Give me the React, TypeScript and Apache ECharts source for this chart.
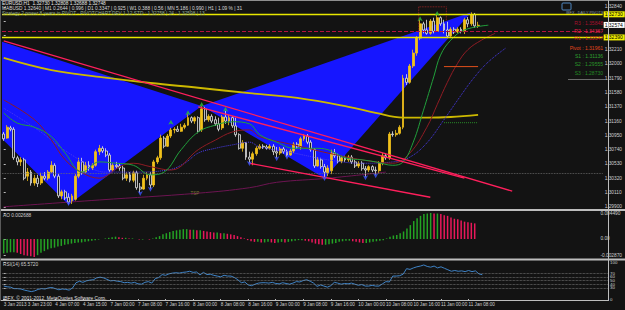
import React, { useEffect, useRef } from 'react';
import * as echarts from 'echarts';

// ---------- DATA ----------
const OPEN = [
  1.3097, 1.3091, 1.3106, 1.3104, 1.3062, 1.3056, 1.3059, 1.3035, 1.3041, 1.3025,
  1.3032, 1.3025, 1.3035, 1.3032, 1.3041, 1.3051, 1.3035, 1.3006, 1.3012, 1.3004,
  1.2999, 1.3001, 1.3035, 1.3056, 1.3041, 1.3051, 1.3047, 1.3051, 1.3071, 1.3076,
  1.3072, 1.3066, 1.3044, 1.3051, 1.3050, 1.3047, 1.3032, 1.3037, 1.3029, 1.3040,
  1.3019, 1.3016, 1.3032, 1.3037, 1.3022, 1.3056, 1.3062, 1.3091, 1.3079, 1.3094,
  1.3103, 1.3104, 1.3101, 1.3107, 1.3110, 1.3121, 1.3116, 1.3121, 1.3103, 1.3134,
  1.3118, 1.3123, 1.3118, 1.3112, 1.3106, 1.3122, 1.3116, 1.3121, 1.3109, 1.3096,
  1.3076, 1.3084, 1.3063, 1.3060, 1.3068, 1.3076, 1.3079, 1.3078, 1.3076, 1.3079,
  1.3071, 1.3069, 1.3075, 1.3071, 1.3066, 1.3072, 1.3082, 1.3078, 1.3090, 1.3094,
  1.3085, 1.3074, 1.3050, 1.3059, 1.3049, 1.3040, 1.3043, 1.3069, 1.3065, 1.3057,
  1.3062, 1.3059, 1.3063, 1.3056, 1.3050, 1.3054, 1.3046, 1.3044, 1.3049, 1.3044,
  1.3043, 1.3054, 1.3065, 1.3062, 1.3097, 1.3096, 1.3098, 1.3107, 1.3179, 1.3173,
  1.3197, 1.3216, 1.3238, 1.3259, 1.3250, 1.3245, 1.3263, 1.3248, 1.3268, 1.3259,
  1.3250, 1.3241, 1.3251, 1.3247, 1.3251, 1.3248, 1.3265, 1.3259, 1.3273, 1.3256,
];
const CLOSE = [
  1.3090, 1.3107, 1.3104, 1.3062, 1.3056, 1.3059, 1.3032, 1.3041, 1.3025, 1.3032,
  1.3024, 1.3035, 1.3032, 1.3041, 1.3051, 1.3035, 1.3006, 1.3012, 1.3003, 1.2997,
  1.3006, 1.3035, 1.3056, 1.3041, 1.3051, 1.3047, 1.3051, 1.3071, 1.3076, 1.3072,
  1.3066, 1.3044, 1.3051, 1.3049, 1.3047, 1.3032, 1.3037, 1.3029, 1.3040, 1.3018,
  1.3016, 1.3032, 1.3037, 1.3022, 1.3056, 1.3062, 1.3091, 1.3079, 1.3094, 1.3103,
  1.3104, 1.3101, 1.3107, 1.3110, 1.3121, 1.3116, 1.3121, 1.3101, 1.3134, 1.3118,
  1.3123, 1.3116, 1.3112, 1.3104, 1.3122, 1.3116, 1.3121, 1.3109, 1.3096, 1.3076,
  1.3084, 1.3063, 1.3060, 1.3068, 1.3076, 1.3079, 1.3078, 1.3076, 1.3079, 1.3071,
  1.3069, 1.3075, 1.3071, 1.3066, 1.3072, 1.3082, 1.3078, 1.3090, 1.3094, 1.3085,
  1.3074, 1.3050, 1.3059, 1.3049, 1.3041, 1.3047, 1.3069, 1.3065, 1.3057, 1.3062,
  1.3059, 1.3063, 1.3056, 1.3050, 1.3054, 1.3046, 1.3044, 1.3049, 1.3044, 1.3043,
  1.3054, 1.3065, 1.3062, 1.3097, 1.3096, 1.3098, 1.3107, 1.3179, 1.3173, 1.3197,
  1.3216, 1.3238, 1.3259, 1.3250, 1.3245, 1.3263, 1.3248, 1.3268, 1.3259, 1.3250,
  1.3241, 1.3251, 1.3247, 1.3251, 1.3248, 1.3265, 1.3259, 1.3273, 1.3256, 1.3257,
];
const LOW = [
  1.3087, 1.3090, 1.3101, 1.3059, 1.3051, 1.3050, 1.3029, 1.3028, 1.3021, 1.3021,
  1.3019, 1.3022, 1.3029, 1.3029, 1.3040, 1.3032, 1.3003, 1.3001, 1.3000, 1.2993,
  1.2994, 1.2999, 1.3032, 1.3037, 1.3040, 1.3043, 1.3044, 1.3049, 1.3066, 1.3069,
  1.3063, 1.3041, 1.3041, 1.3046, 1.3043, 1.3029, 1.3028, 1.3026, 1.3026, 1.3015,
  1.3010, 1.3015, 1.3029, 1.3016, 1.3019, 1.3053, 1.3059, 1.3076, 1.3078, 1.3091,
  1.3098, 1.3100, 1.3100, 1.3104, 1.3109, 1.3113, 1.3112, 1.3098, 1.3100, 1.3115,
  1.3115, 1.3113, 1.3109, 1.3101, 1.3103, 1.3112, 1.3110, 1.3106, 1.3093, 1.3074,
  1.3071, 1.3059, 1.3054, 1.3051, 1.3065, 1.3074, 1.3075, 1.3074, 1.3074, 1.3066,
  1.3062, 1.3066, 1.3068, 1.3063, 1.3065, 1.3069, 1.3075, 1.3074, 1.3087, 1.3082,
  1.3071, 1.3047, 1.3049, 1.3046, 1.3032, 1.3035, 1.3038, 1.3062, 1.3054, 1.3054,
  1.3056, 1.3056, 1.3053, 1.3047, 1.3047, 1.3043, 1.3034, 1.3041, 1.3041, 1.3037,
  1.3040, 1.3051, 1.3059, 1.3059, 1.3093, 1.3093, 1.3096, 1.3104, 1.3169, 1.3171,
  1.3194, 1.3212, 1.3235, 1.3245, 1.3243, 1.3243, 1.3245, 1.3247, 1.3256, 1.3245,
  1.3238, 1.3238, 1.3244, 1.3245, 1.3245, 1.3244, 1.3254, 1.3256, 1.3253, 1.3253,
];
const HIGH = [
  1.3100, 1.3110, 1.3109, 1.3107, 1.3065, 1.3063, 1.3062, 1.3047, 1.3044, 1.3037,
  1.3037, 1.3040, 1.3041, 1.3044, 1.3057, 1.3054, 1.3038, 1.3015, 1.3015, 1.3010,
  1.3009, 1.3038, 1.3062, 1.3062, 1.3056, 1.3057, 1.3054, 1.3074, 1.3081, 1.3079,
  1.3076, 1.3069, 1.3054, 1.3056, 1.3054, 1.3050, 1.3041, 1.3041, 1.3043, 1.3043,
  1.3025, 1.3037, 1.3041, 1.3041, 1.3059, 1.3065, 1.3096, 1.3094, 1.3097, 1.3106,
  1.3107, 1.3109, 1.3112, 1.3113, 1.3126, 1.3123, 1.3123, 1.3123, 1.3138, 1.3137,
  1.3126, 1.3126, 1.3123, 1.3121, 1.3125, 1.3131, 1.3125, 1.3123, 1.3121, 1.3098,
  1.3088, 1.3085, 1.3071, 1.3071, 1.3079, 1.3082, 1.3082, 1.3081, 1.3082, 1.3082,
  1.3078, 1.3078, 1.3078, 1.3074, 1.3075, 1.3085, 1.3085, 1.3093, 1.3097, 1.3097,
  1.3088, 1.3076, 1.3063, 1.3062, 1.3053, 1.3051, 1.3074, 1.3075, 1.3068, 1.3065,
  1.3065, 1.3066, 1.3066, 1.3059, 1.3057, 1.3057, 1.3050, 1.3051, 1.3051, 1.3049,
  1.3057, 1.3069, 1.3069, 1.3100, 1.3101, 1.3103, 1.3110, 1.3184, 1.3185, 1.3200,
  1.3221, 1.3241, 1.3265, 1.3262, 1.3265, 1.3266, 1.3268, 1.3272, 1.3270, 1.3265,
  1.3262, 1.3254, 1.3254, 1.3254, 1.3254, 1.3268, 1.3269, 1.3276, 1.3275, 1.3262,
];

const AO = [
  -0.0025, -0.0024, -0.0023, -0.0023, -0.0024, -0.0026, -0.0028, -0.0029, -0.0030, -0.0031,
  -0.0028, -0.0024, -0.0021, -0.0018, -0.0016, -0.0015, -0.0013, -0.0012, -0.0010, -0.0009,
  -0.0008, -0.0007, -0.0006, -0.0006, -0.0005, -0.0004, -0.0003, -0.0002, -0.0001, 0.0000,
  0.0001, 0.0002, 0.0003, 0.0004, 0.0003, 0.0002, 0.0002, 0.0001, 0.0001, 0.0000,
  -0.0001, -0.0001, 0.0000, -0.0001, 0.0001, 0.0003, 0.0005, 0.0008, 0.0010, 0.0012,
  0.0014, 0.0015, 0.0016, 0.0017, 0.0017, 0.0016, 0.0016, 0.0015, 0.0015, 0.0014,
  0.0013, 0.0012, 0.0011, 0.0011, 0.0010, 0.0010, 0.0009, 0.0008, 0.0007, 0.0005,
  0.0003, 0.0001, -0.0002, -0.0004, -0.0005, -0.0005, -0.0006, -0.0006, -0.0005, -0.0006,
  -0.0007, -0.0006, -0.0005, -0.0006, -0.0005, -0.0004, -0.0003, -0.0002, -0.0002, -0.0003,
  -0.0004, -0.0006, -0.0008, -0.0009, -0.0010, -0.0010, -0.0009, -0.0008, -0.0007, -0.0005,
  -0.0004, -0.0003, -0.0003, -0.0004, -0.0005, -0.0006, -0.0007, -0.0007, -0.0006, -0.0005,
  -0.0004, -0.0003, -0.0002, 0.0001, 0.0004, 0.0006, 0.0007, 0.0010, 0.0013, 0.0018,
  0.0024, 0.0031, 0.0036, 0.0040, 0.0043, 0.0044, 0.0045, 0.0044, 0.0044, 0.0043,
  0.0041, 0.0040, 0.0037, 0.0035, 0.0034, 0.0032, 0.0030, 0.0029, 0.0028, 0.0027,
];

const RSI = [
  35, 33, 32, 28, 28, 27, 24, 22, 20, 22,
  26, 28, 27, 30, 31, 28, 25, 27, 26, 24,
  30, 44, 48, 45, 49, 51, 52, 57, 59, 57,
  53, 49, 50, 48, 47, 44, 45, 43, 45, 41,
  40, 45, 47, 43, 55, 58, 66, 64, 68, 70,
  71, 70, 72, 73, 75, 72, 73, 65, 72, 66,
  67, 64, 62, 60, 64, 62, 62, 58, 52, 44,
  46, 38, 36, 40, 43, 44, 44, 43, 45, 42,
  41, 44, 42, 40, 43, 47, 46, 50, 52, 48,
  43, 34, 38, 35, 32, 36, 45, 43, 40, 42,
  41, 43, 40, 37, 39, 35, 35, 37, 35, 35,
  41, 47, 46, 62, 62, 63, 67, 82, 80, 84,
  87, 89, 92, 88, 86, 89, 84, 87, 83, 79,
  75, 77, 75, 76, 74, 77, 74, 76, 68, 65.6,
];

// moving averages: [bar index, price]
const MA_SLOW = [[0, 1.3209], [14, 1.3191], [28, 1.3181], [43, 1.3172], [57, 1.3165], [72, 1.3157], [86, 1.3150], [101, 1.3137], [109, 1.3128], [117, 1.3121], [124, 1.3121], [131, 1.3122], [139, 1.3125]];
const LIPS = [[0, 1.3128], [4, 1.3113], [9, 1.3107], [14, 1.3093], [18, 1.3069], [23, 1.3041], [28, 1.3056], [33, 1.3054], [38, 1.3051], [43, 1.3037], [47, 1.3041], [52, 1.3074], [57, 1.3100], [62, 1.3110], [67, 1.3115], [72, 1.3112], [75, 1.3096], [80, 1.3085], [85, 1.3076], [91, 1.3076], [95, 1.3074], [100, 1.3062], [105, 1.3059], [109, 1.3056], [114, 1.3051], [117, 1.3056], [120, 1.3085], [123, 1.3132], [126, 1.3181], [128, 1.3213], [131, 1.3235], [135, 1.3250], [142, 1.3257]];
const TEETH = [[0, 1.3147], [9, 1.3118], [14, 1.3088], [18, 1.3059], [23, 1.3040], [28, 1.3032], [34, 1.3049], [38, 1.3054], [43, 1.3049], [49, 1.3044], [57, 1.3074], [62, 1.3088], [67, 1.3100], [72, 1.3103], [75, 1.3093], [85, 1.3081], [95, 1.3069], [105, 1.3059], [114, 1.3054], [119, 1.3069], [124, 1.3107], [127, 1.3140], [130, 1.3173], [133, 1.3201], [136, 1.3221], [140, 1.3235], [144, 1.3245]];
const JAW = [[0, 1.3135], [10, 1.3103], [20, 1.3066], [30, 1.3041], [38, 1.3041], [48, 1.3044], [53, 1.3054], [57, 1.3069], [62, 1.3076], [67, 1.3081], [72, 1.3085], [75, 1.3078], [85, 1.3069], [95, 1.3059], [105, 1.3054], [114, 1.3056], [119, 1.3063], [124, 1.3084], [129, 1.3118], [134, 1.3154], [138, 1.3181], [142, 1.3203], [147, 1.3223]];
const MA_LONG = [[0, 1.2990], [28, 1.3000], [57, 1.3010], [72, 1.3018], [80, 1.3026], [95, 1.3032], [112, 1.3041]];

// trend lines
const TL_UPPER = [[0, 1.3234], [149, 1.3013]];
const TL_MID = [[57, 1.3137], [135, 1.3032]];
const TL_LOWER = [[72, 1.3054], [125, 1.3004]];

// harmonic pattern points X A B C D
const PATTERN_X = [-42.9, 1.33014];
const PATTERN_A = [19, 1.2993];
const PATTERN_B = [58, 1.3138];
const PATTERN_C = [94, 1.3032];
const PATTERN_D = [137, 1.3276];

const FRACTAL_UP = [[49, 1.3118], [54, 1.3132], [58, 1.3144], [65, 1.3137], [122, 1.3270], [127, 1.3278]];
const FRACTAL_DOWN = [[19, 1.2991], [40, 1.3006], [43, 1.3012], [72, 1.3050], [80, 1.3057], [83, 1.3059], [94, 1.3028], [106, 1.3029], [109, 1.3032]];

const LEVEL_HIGH = 1.3273;
const LEVEL_LOW = 1.3239;
const LEVEL_BID = 1.32574;
const LEVEL_DASHED = 1.32484;
const LEVEL_DOTTED = 1.3040;
const PIVOT_LINE = [[129, 1.31961], [139, 1.31961]];
const S1_LINE = [[129, 1.31136], [139, 1.31136]];
const DOTTED_BOX = [[121.6, 1.3284], [129.7, 1.3238]];

const PIVOT_LABELS = ['R3 : 1.35848', 'R2 : 1.34367', 'R1 : 1.33547', 'Pivot : 1.31961', 'S1 : 1.31136', 'S2 : 1.29555', 'S3 : 1.28730'];

// price ticks; the two hidden under the level boxes carry no label
const PRICE_TICKS = [1.2990, 1.3011, 1.3032, 1.3053, 1.3074, 1.3095, 1.3116, 1.3137, 1.3158, 1.3179, 1.3200, 1.3221, 1.3242, 1.3263, 1.3284];
const PRICE_LABELS = [1.2990, 1.3011, 1.3032, 1.3053, 1.3074, 1.3095, 1.3116, 1.3137, 1.3158, 1.3179, 1.3200, 1.3221, 1.3284];
const TIME_TICKS = [0, 7, 15, 23, 31, 39, 47, 55, 63, 71, 79, 87, 95, 103, 111, 119, 127, 135];
const TIME_LABELS = ['3 Jan 2013', '3 Jan 23:00', '4 Jan 07:00', '4 Jan 15:00', '7 Jan 00:00', '7 Jan 08:00', '7 Jan 16:00', '8 Jan 00:00', '8 Jan 08:00', '8 Jan 16:00', '9 Jan 00:00', '9 Jan 08:00', '9 Jan 16:00', '10 Jan 00:00', '10 Jan 08:00', '10 Jan 16:00', '11 Jan 00:00', '11 Jan 08:00'];
const RSI_TICKS = [0, 30, 40, 50, 60, 70, 100];
const RSI_LEVELS = [30, 40, 50, 60, 70];
const AO_TICKS = [-0.00287, 0, 0.00449];

// ---------- STYLE ----------
const FONT = '"Liberation Sans", "DejaVu Sans", sans-serif';
const BG = '#131313';
const BULL = '#f2c21b';
const BEAR_BORDER = '#e4e4e4';
const BEAR_FILL = '#1c1c1c';
const BLUE = '#1616ff';
const PINK = '#ff1f5c';
const AXIS_TXT = '#cfcfcf';
const SEP = '#bdbdbd';
const X_MIN = -0.5;
const X_MAX = 175.5;

function App() {
  const ref = useRef<HTMLDivElement>(null);

  useEffect(() => {
    const chart = echarts.init(ref.current as HTMLDivElement, null, { renderer: 'svg' });

    const candleData = OPEN.map((o, i) => [i, o, CLOSE[i], LOW[i], HIGH[i]]);
    const aoData = AO.map((v, i) => ({
      value: [i, v],
      itemStyle: { color: i > 0 && v < AO[i - 1] ? '#e8185a' : '#24a224' },
    }));
    const rsiData = RSI.map((v, i) => [i, v]);

    const text = (x: number, y: number, t: string, fill: string, size = 5, align = 'left') => ({
      type: 'text', x, y, silent: true, z: 100,
      style: { text: t, fill, fontSize: size, fontFamily: FONT, align, verticalAlign: 'top' },
    });
    const rect = (x: number, y: number, w: number, h: number, fill: string) => ({
      type: 'rect', silent: true, z: 90, shape: { x, y, width: w, height: h }, style: { fill },
    });

    const pivotColors = ['#a8102e', '#e8204c', '#c41822', '#e2461c', '#2fa02f', '#2a952a', '#238a23'];
    const pivotY = [20.5, 28.5, 35.5, 45.5, 53.5, 61.5, 70.5];

    const valueBox = (bg: string) => ({
      show: true, position: 'end', distance: 1,
      formatter: (p: any) => Number(p.value).toFixed(5),
      backgroundColor: bg, color: '#000', fontSize: 5, fontFamily: FONT, padding: [1, 2, 0, 1],
    });

    const lineSeries = (data: number[][], color: string, width: number, type = 'solid', smooth: number | boolean = 0.4, z = 4) => ({
      type: 'line', xAxisIndex: 0, yAxisIndex: 0, data, smooth, showSymbol: false, symbol: 'none', silent: true, z,
      lineStyle: { color, width, type },
    });

    const levelsSeries = {
      type: 'line', xAxisIndex: 0, yAxisIndex: 0, data: [], silent: true, z: 3, symbol: 'none',
      markLine: {
        symbol: 'none', silent: true, animation: false, precision: 6,
        data: [
          { yAxis: LEVEL_DOTTED, lineStyle: { color: '#6e6e6e', type: 'dotted', width: 0.8 }, label: { show: false } },
          { yAxis: LEVEL_DASHED, lineStyle: { color: '#b3123f', type: 'dashed', width: 1 }, label: { show: false } },
          { yAxis: LEVEL_HIGH, lineStyle: { color: '#e8e800', type: 'solid', width: 1.4 }, label: valueBox('#f0f000') },
          { yAxis: LEVEL_LOW, lineStyle: { color: '#e8e800', type: 'solid', width: 1.4 }, label: valueBox('#f0f000') },
          { yAxis: LEVEL_BID, lineStyle: { color: 'rgba(0,0,0,0)', width: 0.5 }, label: valueBox('#ffffff') },
        ],
      },
      markArea: {
        silent: true, precision: 6,
        itemStyle: { color: 'rgba(0,0,0,0)', borderColor: '#b82828', borderType: 'dotted', borderWidth: 0.8 },
        data: [[{ xAxis: DOTTED_BOX[0][0], yAxis: DOTTED_BOX[0][1] }, { xAxis: DOTTED_BOX[1][0], yAxis: DOTTED_BOX[1][1] }]],
      },
    };

    const option: any = {
      animation: false,
      backgroundColor: BG,
      grid: [
        { left: 2, top: 2, width: 606, height: 206 },
        { left: 2, top: 211, width: 606, height: 47 },
        { left: 2, top: 262, width: 606, height: 37 },
      ],
      xAxis: [0, 1, 2].map((g) => ({
        type: 'value', gridIndex: g, min: X_MIN, max: X_MAX,
        show: g === 2,
        axisLine: { show: false },
        splitLine: { show: false },
        axisTick: { show: g === 2, customValues: TIME_TICKS, length: 2, lineStyle: { color: '#bbbbbb' } },
        axisLabel: {
          show: g === 2, customValues: TIME_TICKS, align: 'left', margin: 3,
          color: AXIS_TXT, fontSize: 4.6, fontFamily: FONT,
          formatter: (v: number) => {
            const k = TIME_TICKS.indexOf(Math.round(v));
            return k >= 0 ? TIME_LABELS[k] : '';
          },
        },
      })),
      yAxis: [
        {
          type: 'value', gridIndex: 0, position: 'right', min: 1.29882, max: 1.32911,
          axisLine: { show: false }, splitLine: { show: false },
          axisTick: { show: true, customValues: PRICE_TICKS, length: 2, lineStyle: { color: '#bbbbbb' } },
          axisLabel: { customValues: PRICE_LABELS, formatter: (v: number) => v.toFixed(5), color: AXIS_TXT, fontSize: 4.8, fontFamily: FONT, margin: 2 },
        },
        {
          type: 'value', gridIndex: 1, position: 'right', min: -0.00329, max: 0.00484,
          axisLine: { show: false }, splitLine: { show: false },
          axisTick: { show: true, customValues: AO_TICKS, length: 2, lineStyle: { color: '#bbbbbb' } },
          axisLabel: { customValues: AO_TICKS, formatter: (v: number) => (v === 0 ? '0.00' : v.toFixed(6)), color: AXIS_TXT, fontSize: 4.8, fontFamily: FONT, margin: 2 },
        },
        {
          type: 'value', gridIndex: 2, position: 'right', min: 0, max: 100,
          axisLine: { show: false }, splitLine: { show: false },
          axisTick: { show: true, customValues: RSI_TICKS, length: 2, lineStyle: { color: '#bbbbbb' } },
          axisLabel: { customValues: RSI_TICKS, formatter: (v: number) => String(v), color: AXIS_TXT, fontSize: 4.4, fontFamily: FONT, margin: 2 },
        },
      ],
      series: [
        {
          type: 'custom', xAxisIndex: 0, yAxisIndex: 0, z: 1, silent: true, clip: true,
          data: [[0, 1.31]],
          encode: { x: 0, y: 1 },
          renderItem: (params: any, api: any) => {
            const c = (p: number[]) => api.coord(p);
            return {
              type: 'group',
              children: [
                { type: 'polygon', shape: { points: [PATTERN_X, PATTERN_A, PATTERN_B].map(c) }, style: { fill: BLUE } },
                { type: 'polygon', shape: { points: [PATTERN_B, PATTERN_C, PATTERN_D].map(c) }, style: { fill: BLUE } },
              ],
            };
          },
        },
        levelsSeries,
        {
          type: 'candlestick', xAxisIndex: 0, yAxisIndex: 0, z: 3, silent: true,
          data: candleData,
          encode: { x: 0, y: [1, 2, 3, 4] },
          barWidth: 2.4,
          itemStyle: { color: BULL, color0: BEAR_FILL, borderColor: BULL, borderColor0: BEAR_BORDER, borderWidth: 0.8 },
        },
        lineSeries(MA_LONG, '#6d1552', 1, 'solid', 0.4, 2),
        lineSeries(MA_SLOW, '#cdb900', 1.8),
        lineSeries(JAW, '#4a3cf0', 1, 'dotted'),
        lineSeries(TEETH, '#8e1c24', 1),
        lineSeries(LIPS, '#22a03c', 1),
        lineSeries(TL_UPPER, PINK, 1.3, 'solid', false, 5),
        lineSeries(TL_MID, PINK, 1.3, 'solid', false, 5),
        lineSeries(TL_LOWER, PINK, 1.3, 'solid', false, 5),
        lineSeries(PIVOT_LINE, '#e0501c', 1, 'solid', false, 5),
        lineSeries(S1_LINE, '#2a8f2a', 1, 'dotted', false, 5),
        {
          type: 'scatter', xAxisIndex: 0, yAxisIndex: 0, z: 6, silent: true,
          data: FRACTAL_UP, symbol: 'arrow', symbolSize: [4, 5],
          itemStyle: { color: '#2fbf3a' },
        },
        {
          type: 'scatter', xAxisIndex: 0, yAxisIndex: 0, z: 6, silent: true,
          data: FRACTAL_DOWN, symbol: 'arrow', symbolSize: [4, 5], symbolRotate: 180,
          itemStyle: { color: '#3a52ff' },
        },
        {
          type: 'scatter', xAxisIndex: 0, yAxisIndex: 0, z: 6, silent: true,
          data: [[56, 1.3010]], symbolSize: 1, itemStyle: { color: 'rgba(0,0,0,0)' },
          label: { show: true, position: 'inside', formatter: 'TSP', color: '#8f8f3a', fontSize: 4.5, fontFamily: FONT },
        },
        {
          type: 'bar', xAxisIndex: 1, yAxisIndex: 1, data: aoData, barWidth: 1.5, silent: true,
        },
        {
          type: 'line', xAxisIndex: 2, yAxisIndex: 2, data: rsiData, showSymbol: false, symbol: 'none', silent: true,
          lineStyle: { color: '#3f83c6', width: 1 },
          markLine: {
            symbol: 'none', silent: true, label: { show: false },
            lineStyle: { color: '#8a8a8a', type: 'dotted', width: 0.7 },
            data: RSI_LEVELS.map((v) => ({ yAxis: v })),
          },
        },
      ],
      graphic: [
        rect(0, 0, 625, 1, '#8f8f8f'),
        rect(0, 209, 625, 2, SEP),
        rect(0, 258.5, 625, 2, SEP),
        rect(0, 300, 609, 1, SEP),
        rect(608, 0, 1, 301, SEP),
        rect(0, 0, 1, 301, '#5a5a5a'),
        text(2, 1, 'EURUSD,H1  1.32730 1.32808 1.32688 1.32748', '#e6e6e6', 4.8),
        text(2, 5.8, 'MABUSD 1.32640 | M1 0.2644 | 0.996 | D1 0.3347 | 0.925 | W1 0.388 | 0.56 | MN 5.186 | 0.990 | H1 | 1.09 % | 31', '#d8d8d8', 4.8),
        text(2, 10.6, 'Strategy 2 power 8 years in PIVOT - PIVOTCHART.DEV 1.12 STD : 1.32758 | 24 : 1.32598 | 13', '#93ad93', 4.8),
        { type: 'rect', silent: true, z: 90, shape: { x: 562, y: 3, width: 9, height: 7, r: 1 }, style: { fill: 'none', stroke: '#4f86c0', lineWidth: 1 } },
        text(566, 11, 'IBFX - DAILY PIVOTS', '#8a9aa8', 3.8),
        ...PIVOT_LABELS.map((t, k) => text(603, pivotY[k], t, pivotColors[k], 5, 'right')),
        rect(568, 79, 37, 0.8, '#8a8a8a'),
        text(3, 212.5, 'AO 0.002688', '#d0d0d0', 4.8),
        text(3, 261.5, 'RSI(14) 65.5720', '#d0d0d0', 4.8),
        text(3, 295.5, 'IBFX, \u00a9 2001-2012, MetaQuotes Software Corp.', '#e0e0e0', 4.8),
      ],
    };

    chart.setOption(option);
    return () => chart.dispose();
  }, []);

  return <div ref={ref} style={{ position: 'fixed', left: 0, top: 0, width: 625, height: 310 }} />;
}

export default App;
